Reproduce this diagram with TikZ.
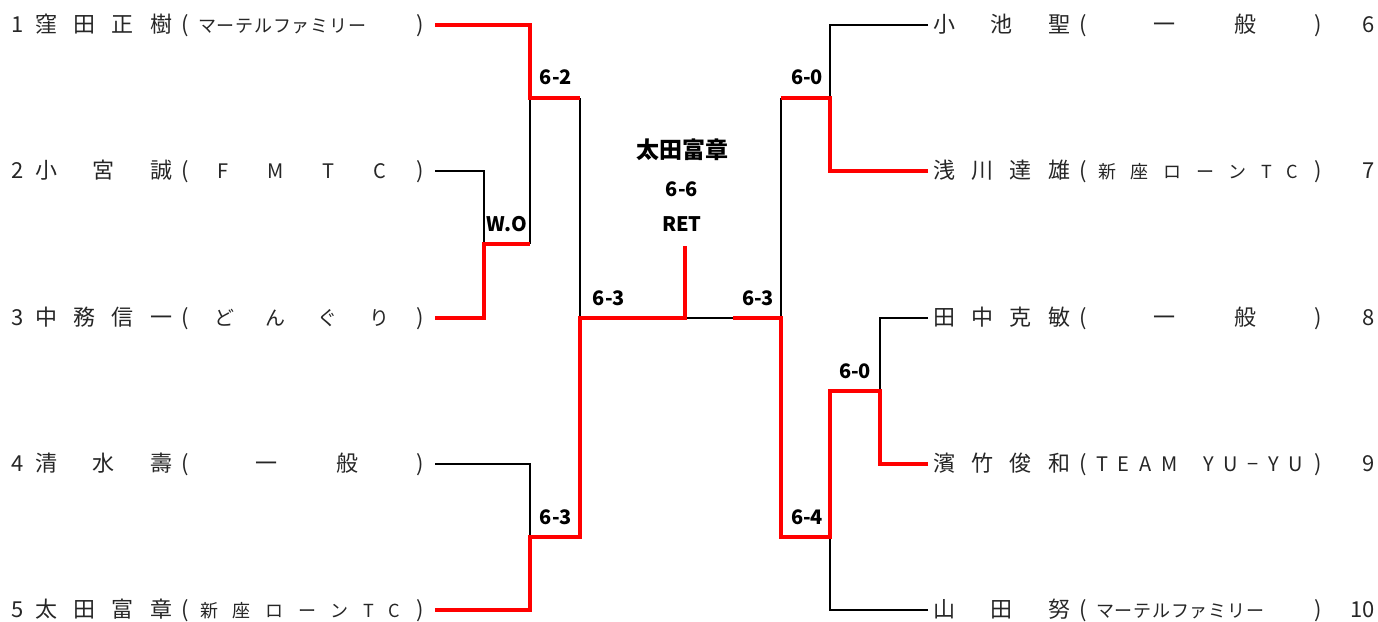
\documentclass[tikz,border=0pt]{standalone}
\usepackage{fontspec}
\setmainfont{Noto Sans CJK JP}

\newcommand{\namefont}{\fontsize{22}{22}\selectfont}
\newcommand{\midaff}{\fontsize{20}{20}\selectfont}
\newcommand{\longaff}{\fontsize{18}{18}\selectfont}
\newcommand{\scorefont}{\bfseries\fontsize{20}{20}\selectfont}
\newcommand{\champfont}{\bfseries\fontsize{23}{23}\selectfont}

% number, name, club (left side)
\newcommand{\leftentry}[3]{%
  \makebox[24pt][l]{#1}\makebox[137pt][s]{#2}\makebox[26pt]{(}%
  \makebox[207pt][s]{#3}\makebox[30pt]{)}}
% number, name, club (right side)
\newcommand{\rightentry}[3]{%
  \kern5pt\makebox[137pt][s]{#2}\makebox[26pt]{(}%
  \makebox[207pt][s]{#3}\makebox[30pt]{)}\makebox[42pt][r]{#1}}

\newcommand{\clubMF}{\longaff\makebox[168pt][s]{マ\hfill ー\hfill テ\hfill ル\hfill フ\hfill ァ\hfill ミ\hfill リ\hfill ー}\hfill}
\newcommand{\clubSZ}{\longaff\hspace*{2pt}新\hfill 座\hfill ロ\hfill ー\hfill ン\hfill T\hfill C\hspace*{5pt}}
\newcommand{\clubIP}{\hspace*{57pt}一\hfill 般\hspace*{47pt}}

\begin{document}
\begin{tikzpicture}[
    x=1pt, y=-1pt,
    lose/.style={line width=1.4pt, black},
    win/.style={line width=4pt, red},
    player/.style={anchor=west, inner sep=0pt, text=black!85, font=\namefont},
    score/.style={inner sep=0pt, font=\scorefont}
]
\useasboundingbox (0,0) rectangle (1378,621);

% Left players
\node[player] (p1) at (11,25) {\leftentry{1}{窪\hfill 田\hfill 正\hfill 樹}{\clubMF}};
\node[player] (p2) at (11,171) {\leftentry{2}{小\hfill 宮\hfill 誠}{\midaff\hfil F\hfil\hfil M\hfil\hfil T\hfil\hfil C\hfil}};
\node[player] (p3) at (11,318) {\leftentry{3}{中\hfill 務\hfill 信\hfill 一}{\midaff\hfil ど\hfil\hfil ん\hfil\hfil ぐ\hfil\hfil り\hfil}};
\node[player] (p4) at (11,464) {\leftentry{4}{清\hfill 水\hfill 壽}{\clubIP}};
\node[player] (p5) at (11,610) {\leftentry{5}{太\hfill 田\hfill 富\hfill 章}{\clubSZ}};

% Right players
\node[player] (p6) at (928,25) {\rightentry{6}{小\hfill 池\hfill 聖}{\clubIP}};
\node[player] (p7) at (928,171) {\rightentry{7}{浅\hfill 川\hfill 達\hfill 雄}{\clubSZ}};
\node[player] (p8) at (928,318) {\rightentry{8}{田\hfill 中\hfill 克\hfill 敏}{\clubIP}};
\node[player] (p9) at (928,464) {\rightentry{9}{濱\hfill 竹\hfill 俊\hfill 和}{\midaff T\hfill E\hfill A\hfill M\hfill\hspace{6pt}\hfill Y\hfill U\hfill −\hfill Y\hfill U}};
\node[player] (p10) at (928,610) {\rightentry{10}{山\hfill 田\hfill 努}{\clubMF}};

% Junctions
\coordinate (r1a) at (530,98);
\coordinate (r1b) at (484,244);
\coordinate (r1c) at (530,537);
\coordinate (sf1) at (580,318);
\coordinate (r2a) at (830,98);
\coordinate (r2b) at (880,391);
\coordinate (r2c) at (830,537);
\coordinate (sf2) at (781,318);
\coordinate (fin) at (685,318);
\coordinate (fintop) at (685,246);
\coordinate (fin2) at (733,318);

% Losing lines
\draw[lose] (p2.east) -| (r1b);
\draw[lose] (r1b -| r1a) -- (r1a);
\draw[lose] (r1a -| sf1) -- (sf1);
\draw[lose] (p4.east) -| (r1c);
\draw[lose] (fin) -- (fin2);
\draw[lose] (p6.west) -| (r2a);
\draw[lose] (r2a -| sf2) -- (sf2);
\draw[lose] (p8.west) -| (r2b);
\draw[lose] (p10.west) -| (r2c);

% Winning lines
\draw[win] (p3.east) -| (r1b) -- (r1b -| r1a);
\draw[win] (p1.east) -| (r1a) -- (r1a -| sf1);
\draw[win] (p5.east) -| (r1c) -- (r1c -| sf1) -- (sf1) -- (fin) -- (fintop);
\draw[win] (p7.west) -| (r2a) -- (r2a -| sf2);
\draw[win] (p9.west) -| (r2b) -- (r2b -| r2c) -- (r2c) -- (r2c -| sf2) -- (sf2) -- (fin2);

% Scores
\node[score] (m1) at (556,77) {6-2};
\node[score] (m2) at (507,224) {W.O};
\node[score] (m3) at (556,517) {6-3};
\node[score] (m4) at (609,298) {6-3};
\node[score] (m5) at (758,298) {6-3};
\node[score] (m6) at (807,77) {6-0};
\node[score] (m7) at (855,371) {6-0};
\node[score] (m8) at (807,517) {6-4};

% Champion
\node[inner sep=0pt, font=\champfont] (champ) at (682,150) {太田富章};
\node[score] (champsc) at (682,189) {6-6};
\node[score] (champret) at (682,224) {RET};

\end{tikzpicture}
\end{document}
